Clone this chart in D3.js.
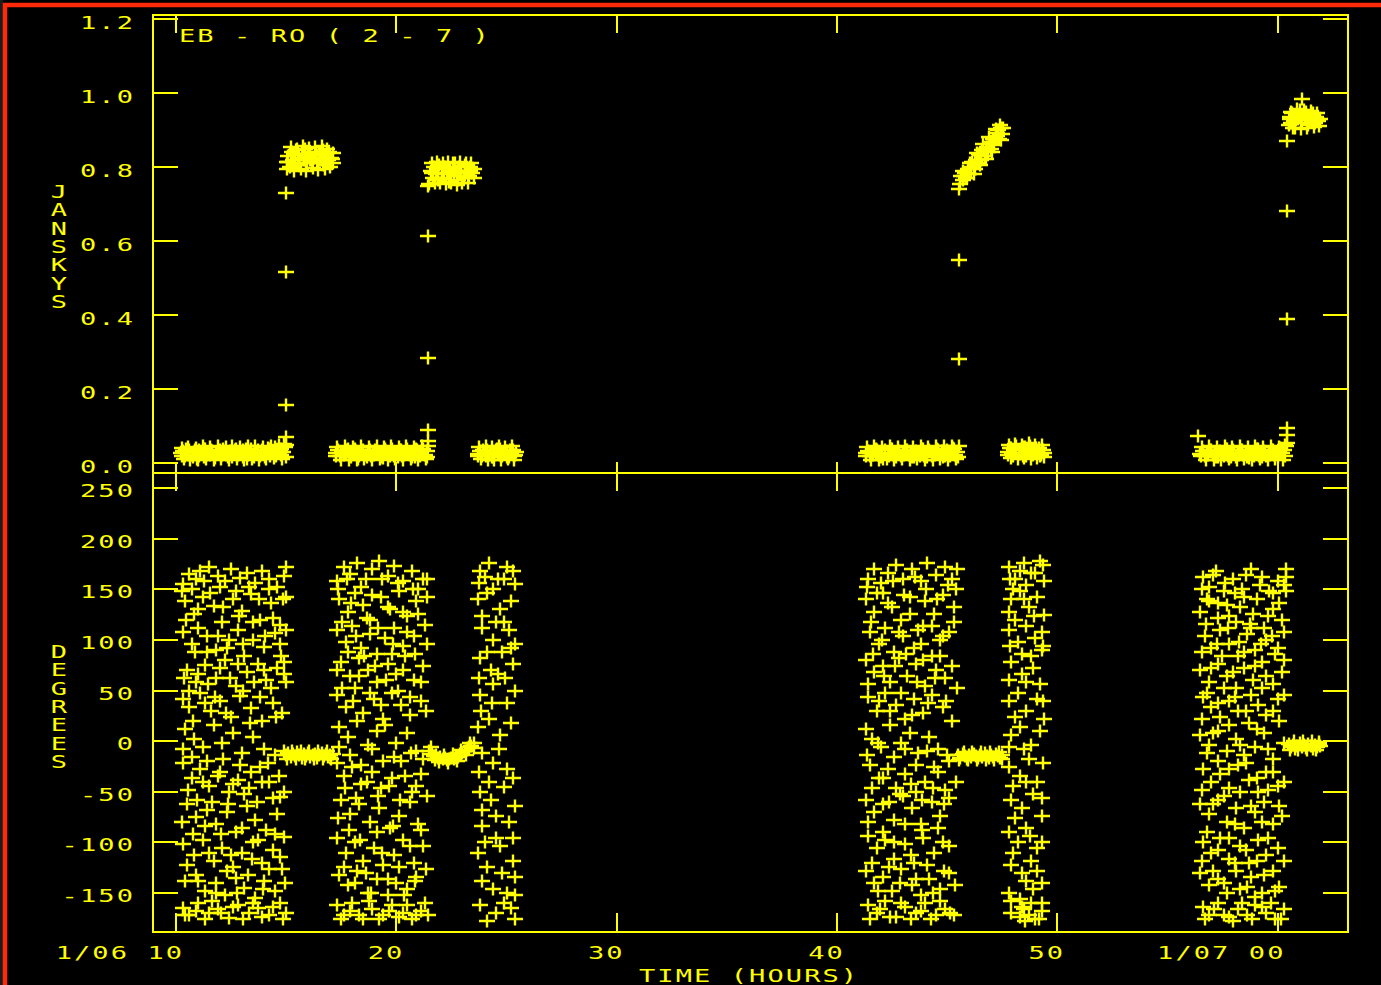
<!DOCTYPE html>
<html>
<head>
<meta charset="utf-8">
<script src="https://cdn.jsdelivr.net/npm/d3@7"></script>
<style>
  html, body { margin: 0; padding: 0; background: #000; overflow: hidden; }
  svg { display: block; }
</style>
</head>
<body>
<svg id="chart" width="1381" height="985"></svg>
<script>
// ---------------- axis ticks and labels ----------------
const hourTicks = [10, 20, 30, 40, 50, 60];
const hourTickLabels = ["1/06 10", "20", "30", "40", "50", "1/07 00"];
const janskyTicks = [0, 0.2, 0.4, 0.6, 0.8, 1.0, 1.2];
const degreeTicks = [-150, -100, -50, 0, 50, 100, 150, 200, 250];
const plotTitle = "EB - RO ( 2 - 7 )";
const ampTitle = "JANSKYS";
const phaseTitle = "DEGREES";
const timeTitle = "TIME (HOURS)";

// ---------------- amplitude (Jy) per scan: [hour, Jy] ----------------
const ampScan1Off = [[10.2,.026],[10.3,.033],[10.4,.019],[10.5,.029],[10.6,.036],[10.7,.022],[10.8,.030],[10.95,.012],[11.05,.034],[11.15,.025],[11.3,.038],[11.4,.021],[11.5,.028],[11.65,.033],[11.75,.018],[11.85,.027],[12.0,.035],[12.1,.023],[12.2,.030],[12.35,.016],[12.45,.032],[12.6,.026],[12.7,.039],[12.8,.021],[12.95,.029],[13.05,.034],[13.2,.011],[13.3,.027],[13.4,.037],[13.55,.024],[13.65,.031],[13.8,.018],[13.9,.035],[14.0,.028],[14.15,.040],[14.25,.023],[14.4,.033],[14.5,.042],[14.6,.026],[14.75,.038],[14.85,.030],[14.95,.044],
[10.25,.040],[10.35,.010],[10.55,.044],[10.65,.008],[10.9,.041],[11.0,.009],[11.2,.046],[11.35,.012],[11.55,.043],[11.7,.007],[11.9,.045],[12.05,.010],[12.25,.042],[12.4,.008],[12.55,.047],[12.75,.011],[12.9,.043],[13.1,.009],[13.25,.045],[13.45,.012],[13.6,.046],[13.75,.007],[13.95,.044],[14.1,.010],[14.3,.047],[14.45,.013],[14.65,.048],[14.8,.011],[14.9,.052],
[10.28,.018],[10.52,.022],[10.78,.015],[11.02,.020],[11.28,.016],[11.52,.021],[11.78,.014],[12.02,.019],[12.28,.022],[12.52,.015],[12.78,.020],[13.02,.017],[13.28,.022],[13.52,.015],[13.78,.021],[14.02,.016],[14.28,.020],[14.52,.018],[14.78,.022],[14.98,.016],[10.45,.037],[10.85,.035],[11.25,.038],[11.6,.036],[12.15,.037],[12.65,.035],[13.15,.038],[13.7,.036],[14.2,.037],[14.7,.034]];
const ampScan1Rise = [[15.0,.048],[15.0,.07],[15.0,.157],[15.0,.516],[15.0,.73]];
const ampScan1On = [[15.05,.815],[15.1,.83],[15.15,.80],[15.25,.84],[15.3,.82],[15.4,.81],[15.45,.845],[15.55,.825],[15.6,.805],[15.7,.835],[15.8,.82],[15.85,.85],[15.95,.81],[16.0,.83],[16.1,.84],[16.15,.815],[16.25,.825],[16.3,.855],[16.4,.81],[16.5,.835],[16.55,.82],[16.65,.845],[16.7,.805],[16.8,.83],[16.9,.82],[16.95,.84],[17.05,.825],[17.1,.81],
[15.05,.795],[15.2,.855],[15.35,.79],[15.5,.85],[15.65,.795],[15.75,.858],[15.9,.79],[16.05,.852],[16.2,.798],[16.35,.832],[16.45,.792],[16.6,.858],[16.75,.795],[16.85,.85],[17.0,.80],[17.1,.838],
[15.1,.815],[15.35,.835],[15.6,.82],[15.85,.835],[16.1,.82],[16.35,.84],[16.6,.82],[16.85,.838],[17.08,.822]];
const ampScan2Off = [[17.25,.027],[17.35,.034],[17.45,.018],[17.55,.030],[17.7,.024],[17.8,.037],[17.9,.020],[18.0,.029],[18.15,.033],[18.25,.012],[18.35,.026],[18.5,.036],[18.6,.022],[18.7,.031],[18.85,.019],[18.95,.028],[19.05,.035],[19.2,.024],[19.3,.030],[19.4,.014],[19.55,.033],[19.65,.025],[19.8,.038],[19.9,.020],[20.0,.029],[20.15,.034],[20.25,.018],[20.4,.027],[20.5,.037],[20.6,.023],[20.75,.031],[20.85,.017],[20.95,.035],[21.1,.026],[21.2,.039],[21.3,.022],[21.4,.032],
[17.3,.043],[17.5,.008],[17.65,.045],[17.85,.009],[18.05,.044],[18.2,.007],[18.4,.046],[18.55,.010],[18.75,.042],[18.9,.008],[19.1,.045],[19.25,.011],[19.45,.044],[19.6,.007],[19.75,.047],[19.95,.010],[20.1,.043],[20.3,.009],[20.45,.046],[20.65,.012],[20.8,.044],[21.0,.008],[21.15,.047],[21.35,.011],
[17.28,.018],[17.6,.021],[17.95,.015],[18.3,.020],[18.65,.016],[19.0,.022],[19.35,.015],[19.7,.020],[20.05,.017],[20.35,.021],[20.7,.015],[21.05,.019],[21.38,.016],[17.75,.036],[18.1,.037],[18.8,.035],[19.5,.038],[20.2,.036],[20.9,.037]];
const ampScan2Rise = [[21.45,.045],[21.45,.06],[21.45,.09],[21.45,.284],[21.45,.614],[21.45,.749]];
const ampScan2On = [[21.5,.755],[21.55,.79],[21.65,.77],[21.7,.80],[21.8,.78],[21.9,.765],[21.95,.805],[22.05,.785],[22.15,.77],[22.2,.80],[22.3,.78],[22.4,.76],[22.45,.795],[22.55,.81],[22.6,.775],[22.7,.79],[22.8,.765],[22.85,.80],[22.95,.785],[23.05,.77],[23.1,.805],[23.2,.79],[23.3,.775],[23.35,.80],[23.45,.785],[23.5,.77],
[21.6,.812],[21.75,.758],[21.85,.815],[22.0,.757],[22.1,.812],[22.25,.755],[22.35,.815],[22.5,.758],[22.65,.812],[22.75,.752],[22.9,.815],[23.0,.756],[23.15,.812],[23.25,.758],[23.4,.81],[23.5,.795],
[21.6,.785],[21.85,.795],[22.1,.785],[22.35,.795],[22.6,.785],[22.85,.79],[23.1,.785],[23.35,.79]];
const ampScan3Off = [[23.7,.024],[23.8,.032],[23.9,.018],[24.0,.028],[24.1,.036],[24.2,.021],[24.3,.030],[24.4,.015],[24.5,.034],[24.6,.025],[24.7,.038],[24.8,.020],[24.9,.029],[25.0,.033],[25.1,.017],[25.2,.027],[25.3,.035],[25.4,.022],[25.45,.030],
[23.75,.042],[23.85,.010],[24.05,.045],[24.15,.008],[24.35,.044],[24.45,.009],[24.65,.046],[24.75,.007],[24.95,.043],[25.05,.010],[25.25,.045],[25.35,.009],
[23.72,.018],[24.05,.020],[24.35,.016],[24.7,.021],[25.0,.017],[25.35,.019],[23.95,.036],[24.55,.037],[25.15,.035]];
const ampScan4Off = [[41.3,.026],[41.4,.033],[41.5,.019],[41.6,.030],[41.75,.037],[41.85,.022],[41.95,.028],[42.1,.012],[42.2,.034],[42.3,.025],[42.45,.039],[42.55,.021],[42.65,.029],[42.8,.033],[42.9,.018],[43.0,.027],[43.15,.036],[43.25,.023],[43.35,.031],[43.5,.015],[43.6,.032],[43.7,.026],[43.85,.038],[43.95,.020],[44.05,.030],[44.2,.035],[44.3,.019],[44.4,.028],[44.55,.037],[44.65,.024],[44.75,.032],[44.9,.018],[45.0,.034],[45.1,.027],[45.25,.040],[45.35,.022],[45.45,.031],
[41.35,.044],[41.55,.009],[41.7,.046],[41.9,.008],[42.05,.043],[42.25,.010],[42.4,.047],[42.6,.007],[42.75,.044],[42.95,.011],[43.1,.046],[43.3,.008],[43.45,.043],[43.65,.010],[43.8,.047],[44.0,.009],[44.15,.044],[44.35,.007],[44.5,.046],[44.7,.010],[44.85,.045],[45.05,.008],[45.2,.047],[45.4,.011],
[41.32,.018],[41.65,.021],[42.0,.015],[42.35,.020],[42.7,.016],[43.05,.022],[43.4,.015],[43.75,.020],[44.1,.017],[44.45,.021],[44.8,.015],[45.15,.019],[45.48,.016],[41.8,.036],[42.5,.037],[43.2,.035],[43.9,.038],[44.6,.036],[45.3,.037]];
const ampScan4Rise = [[45.55,.045],[45.55,.28],[45.55,.55],[45.55,.74]];
const ampScan4On = [[45.6,.755],[45.65,.775],[45.7,.765],[45.8,.785],[45.85,.770],[45.95,.795],[46.0,.780],[46.1,.800],[46.15,.815],[46.25,.795],[46.3,.820],[46.4,.810],[46.45,.835],[46.55,.820],[46.6,.845],[46.7,.830],[46.8,.855],[46.85,.840],[46.95,.865],[47.0,.850],[47.1,.875],[47.15,.860],[47.25,.885],[47.3,.900],[47.35,.875],[47.45,.905],[47.5,.890],
[45.7,.788],[45.9,.770],[46.05,.812],[46.2,.782],[46.35,.838],[46.5,.805],[46.65,.862],[46.75,.822],[46.9,.880],[47.05,.840],[47.2,.902],[47.4,.915],[47.55,.905],[47.45,.872],
[45.75,.777],[46.0,.795],[46.25,.815],[46.5,.832],[46.75,.848],[47.0,.868],[47.25,.893]];
const ampScan5Off = [[47.75,.030],[47.85,.040],[47.95,.024],[48.05,.036],[48.15,.045],[48.25,.028],[48.35,.038],[48.45,.020],[48.55,.042],[48.65,.032],[48.75,.047],[48.85,.026],[48.95,.037],[49.05,.030],[49.15,.041],[49.25,.022],[49.35,.034],[49.4,.028],
[47.8,.048],[47.9,.013],[48.1,.052],[48.2,.012],[48.4,.050],[48.5,.014],[48.7,.053],[48.8,.011],[49.0,.050],[49.1,.013],[49.3,.048],[49.4,.015],
[47.78,.022],[48.0,.018],[48.3,.024],[48.6,.020],[48.9,.023],[49.2,.019],[47.9,.040],[48.45,.044],[49.05,.040]];
const ampScan6Off = [[56.4,.073],[56.5,.025],[56.6,.032],[56.7,.018],[56.8,.029],[56.95,.036],[57.05,.021],[57.15,.030],[57.3,.016],[57.4,.033],[57.5,.024],[57.65,.038],[57.75,.020],[57.85,.028],[58.0,.034],[58.1,.017],[58.2,.026],[58.35,.035],[58.45,.022],[58.55,.030],[58.7,.014],[58.8,.031],[58.9,.025],[59.05,.037],[59.15,.019],[59.25,.028],[59.4,.033],[59.5,.018],[59.6,.027],[59.75,.036],[59.85,.023],[59.95,.031],[60.1,.040],[60.2,.026],[60.3,.035],[60.4,.045],
[56.55,.043],[56.75,.008],[56.9,.045],[57.1,.009],[57.25,.044],[57.45,.007],[57.6,.046],[57.8,.010],[57.95,.043],[58.15,.008],[58.3,.045],[58.5,.011],[58.65,.044],[58.85,.007],[59.0,.046],[59.2,.010],[59.35,.043],[59.55,.008],[59.7,.045],[59.9,.011],[60.05,.044],[60.25,.009],[60.35,.048],
[56.52,.018],[56.85,.021],[57.2,.015],[57.55,.020],[57.9,.016],[58.25,.022],[58.6,.015],[58.95,.020],[59.3,.017],[59.65,.021],[60.0,.015],[60.35,.019],[57.0,.036],[57.7,.037],[58.4,.035],[59.1,.038],[59.8,.036]];
const ampScan6Rise = [[60.45,.055],[60.45,.075],[60.45,.095],[60.45,.39],[60.45,.68],[60.45,.87]];
const ampScan6On = [[60.5,.915],[60.55,.935],[60.6,.92],[60.65,.945],[60.75,.925],[60.8,.905],[60.85,.94],[60.95,.93],[61.0,.955],[61.1,.92],[61.15,.94],[61.25,.93],[61.3,.95],[61.4,.915],[61.45,.935],[61.55,.925],[61.6,.945],[61.7,.92],[61.75,.935],[61.85,.925],[61.95,.93],[61.1,.985],
[60.6,.95],[60.7,.905],[60.9,.958],[61.05,.902],[61.2,.955],[61.35,.905],[61.5,.952],[61.65,.908],[61.8,.945],[61.9,.912],
[60.55,.93],[60.8,.93],[61.05,.935],[61.3,.93],[61.55,.94],[61.8,.93]];

// ---------------- phase (degrees) per scan: [hour, deg] ----------------
const phaseScan1Off = [[10.3,155],[10.6,165],[10.9,160],[11.1,168],[11.5,172],[11.9,163],[12.2,158],[12.5,170],[12.9,161],[13.2,166],[13.6,156],[13.9,168],[14.2,160],[14.6,152],[14.9,163],[15.0,172],
[10.4,138],[10.8,126],[11.2,142],[11.7,133],[12.1,118],[12.6,140],[13.0,129],[13.4,145],[13.8,120],[14.3,136],[14.7,115],[15.0,142],
[10.3,108],[10.7,96],[11.0,112],[11.4,88],[11.9,104],[12.3,92],[12.8,110],[13.1,84],[13.5,100],[14.0,93],[14.5,107],[14.9,78],
[10.5,70],[10.9,58],[11.3,75],[11.8,62],[12.2,80],[12.7,54],[13.2,68],[13.7,76],[14.1,60],[14.6,72],[14.9,66],
[10.3,42],[10.6,34],[11.1,48],[11.6,30],[12.0,40],[12.5,24],[12.9,45],[13.4,33],[13.9,20],[14.4,38],[14.8,28],
[10.4,12],[10.8,2],[11.2,-6],[11.7,16],[12.1,-2],[12.6,8],[13.0,-12],[13.5,4],[14.0,-8],[14.5,-14],[14.9,-10],
[10.3,-22],[10.7,-36],[11.1,-28],[11.5,-44],[12.0,-30],[12.4,-50],[12.8,-38],[13.3,-46],[13.8,-26],[14.2,-40],[14.7,-55],
[10.5,-62],[10.9,-75],[11.4,-68],[11.8,-82],[12.3,-70],[12.7,-90],[13.2,-64],[13.6,-78],[14.1,-88],[14.6,-72],[14.9,-95],
[10.3,-102],[10.8,-112],[11.2,-98],[11.7,-118],[12.1,-106],[12.6,-124],[13.0,-110],[13.5,-100],[13.9,-120],[14.4,-108],[14.8,-126],
[10.4,-138],[10.9,-132],[11.3,-148],[11.8,-140],[12.2,-152],[12.7,-135],[13.1,-145],[13.6,-155],[14.0,-138],[14.5,-148],
[10.3,-165],[10.6,-172],[11.0,-160],[11.5,-170],[11.9,-166],[12.4,-175],[12.8,-162],[13.3,-170],[13.7,-165],[14.2,-172],[14.7,-160],[15.0,-170],
[10.25,148],[10.45,120],[10.7,150],[10.85,88],[11.0,130],[11.25,158],[11.4,104],[11.55,146],[11.8,90],[12.0,152],[12.15,132],[12.4,100],[12.7,148],[12.85,124],[13.05,96],[13.3,152],[13.5,118],[13.75,140],[14.05,104],[14.2,150],[14.4,122],[14.7,96],[14.85,140],[15.0,110],
[10.35,62],[10.6,50],[10.75,20],[11.0,66],[11.3,38],[11.45,56],[11.75,44],[12.0,72],[12.25,28],[12.45,62],[12.8,76],[13.05,50],[13.35,18],[13.55,58],[13.8,44],[14.0,70],[14.3,52],[14.55,24],[14.75,84],[15.0,58],
[10.3,-8],[10.55,-48],[10.7,-16],[10.95,-58],[11.2,-40],[11.4,-20],[11.65,-60],[11.9,-34],[12.15,-18],[12.35,-62],[12.6,-42],[12.9,-24],[13.1,-52],[13.4,-30],[13.65,-60],[13.9,-40],[14.15,-22],[14.4,-56],[14.65,-34],[14.9,-50],
[10.25,-80],[10.5,-122],[10.75,-92],[11.0,-138],[11.3,-84],[11.5,-110],[11.8,-150],[12.05,-92],[12.3,-128],[12.5,-112],[12.75,-150],[13.0,-86],[13.25,-132],[13.45,-116],[13.7,-98],[13.95,-146],[14.2,-126],[14.5,-92],[14.7,-114],[14.95,-140],
[10.4,-172],[10.9,-168],[11.3,-176],[11.65,-158],[12.05,-170],[12.6,-164],[13.05,-176],[13.5,-160],[13.9,-174],[14.4,-164],[14.85,-176]];
const phaseScan1On = [[15.0,-14],[15.1,-12],[15.2,-16],[15.3,-13],[15.4,-15],[15.5,-11],[15.6,-14],[15.7,-17],[15.8,-13],[15.9,-15],[16.0,-12],[16.1,-16],[16.2,-14],[16.3,-13],[16.4,-17],[16.5,-14],[16.6,-12],[16.7,-15],[16.8,-13],[16.9,-16],[17.0,-14],[17.1,-13],
[15.05,-18],[15.25,-10],[15.45,-18],[15.65,-10],[15.85,-18],[16.05,-10],[16.25,-18],[16.45,-10],[16.65,-18],[16.85,-10],[17.05,-18]];
const phaseScan2Off = [[17.3,158],[17.6,172],[17.9,165],[18.2,176],[18.6,160],[18.9,170],[19.2,178],[19.6,163],[19.9,173],[20.3,158],[20.7,168],[21.0,150],[21.4,160],
[17.4,140],[17.8,128],[18.1,146],[18.5,134],[18.8,120],[19.3,142],[19.7,130],[20.1,148],[20.5,124],[20.9,138],[21.4,142],
[17.3,110],[17.7,98],[18.0,114],[18.4,92],[18.8,106],[19.1,86],[19.5,102],[19.9,112],[20.3,94],[20.8,104],[21.3,115],
[17.5,78],[17.9,64],[18.3,82],[18.7,70],[19.1,58],[19.6,76],[20.0,66],[20.4,84],[20.8,60],[21.2,74],
[17.3,46],[17.7,34],[18.1,52],[18.5,28],[19.0,42],[19.4,22],[19.8,48],[20.2,36],[20.6,26],[21.1,40],
[17.4,14],[17.8,4],[18.2,20],[18.7,-4],[19.1,10],[19.5,16],[20.0,-2],[20.5,8],[20.9,-10],
[17.3,-22],[17.6,-34],[18.0,-26],[18.4,-42],[18.9,-30],[19.3,-46],[19.8,-36],[20.2,-20],[20.7,-50],[21.1,-32],
[17.5,-58],[17.9,-72],[18.3,-62],[18.8,-80],[19.2,-66],[19.7,-86],[20.1,-74],[20.6,-60],[21.0,-82],
[17.3,-96],[17.7,-110],[18.1,-100],[18.5,-118],[19.0,-106],[19.4,-122],[19.9,-112],[20.3,-98],[20.8,-120],[21.2,-104],
[17.4,-132],[17.8,-142],[18.2,-128],[18.7,-150],[19.1,-136],[19.6,-152],[20.0,-140],[20.5,-146],[20.9,-134],
[17.3,-162],[17.6,-172],[18.0,-160],[18.5,-176],[18.9,-166],[19.4,-172],[19.8,-162],[20.3,-170],[20.7,-176],[21.1,-168],[21.45,-172],
[17.35,150],[17.55,118],[17.75,160],[17.95,136],[18.15,104],[18.4,152],[18.65,122],[18.9,144],[19.15,112],[19.35,160],[19.6,132],[19.85,96],[20.05,156],[20.3,128],[20.5,108],[20.75,150],[21.0,126],[21.2,160],[21.4,96],
[17.3,70],[17.55,52],[17.8,88],[18.05,40],[18.3,64],[18.55,84],[18.8,48],[19.05,74],[19.3,36],[19.55,60],[19.8,86],[20.05,50],[20.3,70],[20.6,44],[20.85,86],[21.1,58],[21.35,30],
[17.4,-6],[17.65,-46],[17.9,-14],[18.15,-56],[18.4,-24],[18.65,-40],[18.9,-8],[19.15,-54],[19.4,-20],[19.65,-44],[19.9,-16],[20.15,-58],[20.4,-34],[20.65,-12],[20.9,-44],[21.2,-18],[21.4,-54],
[17.35,-76],[17.6,-124],[17.85,-88],[18.1,-140],[18.35,-98],[18.6,-130],[18.85,-150],[19.1,-90],[19.35,-110],[19.6,-136],[19.85,-84],[20.1,-124],[20.35,-152],[20.6,-104],[20.85,-138],[21.1,-88],[21.35,-126],
[17.5,-176],[17.9,-168],[18.3,-172],[18.75,-158],[19.2,-176],[19.65,-168],[20.1,-174],[20.5,-162],[20.9,-172],[21.3,-160]];
const phaseScan2On = [[21.5,-10],[21.6,-13],[21.7,-15],[21.8,-14],[21.9,-17],[22.0,-16],[22.1,-18],[22.2,-17],[22.3,-19],[22.4,-18],[22.5,-17],[22.6,-18],[22.7,-15],[22.8,-16],[22.9,-13],[23.0,-12],[23.1,-10],[23.2,-9],[23.3,-6],[23.4,-5],[23.5,-2],
[21.55,-6],[21.75,-19],[21.95,-21],[22.15,-14],[22.35,-22],[22.55,-13],[22.75,-20],[22.95,-9],[23.15,-14],[23.35,-2],[23.5,-7]];
const phaseScan3Off = [[23.8,168],[24.2,176],[24.6,160],[25.0,172],[25.4,155],
[23.7,140],[24.1,146],[24.7,130],[25.2,138],
[23.9,112],[24.4,100],[24.9,118],[25.4,96],
[23.8,82],[24.3,70],[24.8,88],[25.3,76],
[23.8,46],[24.4,56],[25.0,38],[25.4,50],
[23.7,14],[24.2,22],[24.7,6],[25.2,18],
[23.9,-12],[24.4,-22],[25.0,-28],
[23.8,-50],[24.3,-58],[24.9,-45],[25.4,-64],
[23.9,-84],[24.5,-96],[25.1,-80],
[23.7,-110],[24.1,-124],[24.7,-104],[25.3,-118],
[23.9,-138],[24.4,-146],[25.0,-150],[25.4,-134],
[23.8,-162],[24.5,-170],[25.2,-165],[25.4,-176],
[23.75,156],[24.0,162],[24.4,150],[24.9,160],[25.3,168],[23.9,124],[24.5,118],[25.1,110],[23.75,62],[24.1,88],[24.6,66],[25.2,92],[23.85,30],[24.35,38],[24.95,62],[23.75,-30],[24.2,-40],[24.65,-8],[25.3,-36],[23.9,-68],[24.5,-74],[25.3,-96],[24.0,-100],[24.8,-130],[25.4,-152],[24.1,-178],[24.9,-160]];
const phaseScan4Off = [[41.4,160],[41.7,170],[42.0,156],[42.3,166],[42.7,174],[43.0,160],[43.4,170],[43.8,158],[44.1,176],[44.5,164],[44.9,172],[45.2,160],[45.4,150],
[41.3,140],[41.7,128],[42.1,146],[42.5,132],[42.9,120],[43.3,142],[43.7,110],[44.0,138],[44.4,126],[44.8,144],[45.3,132],
[41.5,108],[41.9,96],[42.2,112],[42.6,88],[43.0,104],[43.5,92],[43.9,114],[44.3,84],[44.7,100],[45.1,108],
[41.3,80],[41.7,68],[42.1,74],[42.4,58],[42.8,82],[43.2,64],[43.6,76],[44.0,54],[44.5,70],[44.9,62],
[41.4,44],[41.8,30],[42.2,48],[42.7,36],[43.1,22],[43.5,42],[43.9,28],[44.3,46],[44.8,34],[45.2,20],
[41.3,12],[41.6,2],[42.0,-6],[42.4,16],[42.9,-2],[43.3,8],[43.7,-12],[44.2,4],[44.6,-8],[45.0,-14],
[41.5,-24],[41.9,-36],[42.3,-28],[42.7,-46],[43.1,-32],[43.6,-50],[44.0,-40],[44.4,-26],[44.9,-48],
[41.3,-58],[41.7,-70],[42.1,-62],[42.6,-78],[43.0,-54],[43.4,-66],[43.8,-82],[44.3,-60],[44.7,-74],[45.1,-56],
[41.4,-94],[41.8,-106],[42.2,-98],[42.6,-116],[43.1,-102],[43.5,-120],[43.9,-96],[44.4,-110],[44.8,-100],
[41.3,-128],[41.7,-140],[42.1,-134],[42.5,-148],[42.9,-126],[43.4,-142],[43.8,-152],[44.2,-136],[44.7,-146],[45.1,-130],
[41.4,-162],[41.8,-170],[42.2,-158],[42.7,-174],[43.1,-164],[43.6,-170],[44.0,-160],[44.5,-172],[44.9,-166],[45.3,-172],
[41.35,152],[41.55,118],[41.8,146],[42.05,100],[42.3,136],[42.55,158],[42.8,108],[43.05,144],[43.3,126],[43.55,162],[43.8,96],[44.05,150],[44.3,114],[44.55,140],[44.8,104],[45.05,154],[45.3,118],[45.45,170],
[41.4,56],[41.65,86],[41.9,40],[42.15,64],[42.4,30],[42.65,74],[42.9,48],[43.15,86],[43.4,26],[43.65,58],[43.9,80],[44.15,38],[44.45,62],[44.7,84],[44.95,40],[45.2,74],[45.45,52],
[41.35,-14],[41.6,-46],[41.85,-2],[42.1,-36],[42.35,-60],[42.6,-16],[42.85,-52],[43.1,-8],[43.35,-42],[43.6,-24],[43.85,-58],[44.1,-10],[44.35,-46],[44.6,-30],[44.85,-62],[45.1,-20],[45.4,-40],
[41.4,-80],[41.6,-120],[41.85,-148],[42.1,-90],[42.35,-124],[42.6,-100],[42.85,-140],[43.1,-82],[43.35,-112],[43.6,-136],[43.85,-88],[44.1,-122],[44.35,-150],[44.6,-86],[44.85,-128],[45.1,-104],[45.35,-142],
[41.5,-176],[41.95,-166],[42.4,-174],[42.9,-160],[43.35,-176],[43.8,-168],[44.25,-176],[44.7,-158],[45.15,-170]];
const phaseScan4On = [[45.5,-14],[45.6,-17],[45.7,-13],[45.8,-15],[45.9,-18],[46.0,-14],[46.1,-16],[46.2,-13],[46.3,-15],[46.4,-17],[46.5,-14],[46.6,-16],[46.7,-12],[46.8,-15],[46.9,-17],[47.0,-14],[47.1,-16],[47.2,-13],[47.3,-15],[47.4,-17],[47.5,-14],
[45.55,-19],[45.75,-11],[45.95,-19],[46.15,-11],[46.35,-19],[46.55,-11],[46.75,-19],[46.95,-11],[47.15,-19],[47.35,-11],[47.5,-18]];
const phaseScan5Off = [[47.8,172],[48.1,160],[48.5,176],[48.8,166],[49.2,178],[49.4,158],
[47.9,140],[48.3,148],[48.7,132],[49.1,142],[49.4,125],
[47.8,110],[48.2,98],[48.6,114],[49.0,102],[49.3,90],
[47.9,78],[48.4,66],[48.8,84],[49.2,56],
[47.8,40],[48.2,48],[48.6,30],[49.1,42],[49.4,22],
[47.9,6],[48.3,14],[48.8,-4],[49.2,10],
[47.8,-26],[48.3,-34],[48.7,-18],[49.1,-40],
[47.9,-58],[48.4,-66],[48.9,-52],[49.3,-74],
[47.8,-90],[48.2,-100],[48.6,-86],[49.1,-106],
[47.9,-122],[48.4,-130],[48.8,-118],[49.3,-140],
[47.8,-150],[48.3,-156],[48.9,-146],[49.3,-160],
[47.9,-170],[48.3,-174],[48.5,-166],[48.7,-172],[49.0,-176],[49.3,-168],
[47.85,160],[48.0,150],[48.3,168],[48.6,154],[49.0,166],[49.35,174],[47.8,128],[48.1,120],[48.5,140],[48.95,124],[49.3,108],[47.85,94],[48.4,86],[48.9,72],[49.35,94],[47.8,60],[48.1,24],[48.6,58],[49.35,40],[47.8,-6],[48.5,-8],[49.35,-22],[48.0,-44],[48.6,-40],[49.3,-56],[48.1,-76],[48.75,-94],[49.3,-100],[48.0,-110],[48.6,-138],[49.1,-128],[47.9,-158],[48.4,-164],[48.8,-160],[49.15,-176],[48.55,-178]];
const phaseScan6Off = [[56.6,162],[56.9,152],[57.2,168],[57.6,156],[58.0,160],[58.4,150],[58.8,170],[59.2,154],[59.6,148],[60.0,158],[60.4,170],[60.4,162],[60.4,148],
[56.5,128],[56.9,138],[57.3,122],[57.7,134],[58.1,118],[58.5,142],[58.9,126],[59.4,112],[59.8,130],[60.2,120],
[56.7,104],[57.0,92],[57.4,110],[57.8,96],[58.2,84],[58.6,106],[59.0,90],[59.5,100],[59.9,86],[60.3,108],
[56.5,70],[56.9,58],[57.3,76],[57.7,64],[58.1,52],[58.5,72],[58.9,60],[59.3,78],[59.8,56],[60.2,68],
[56.6,44],[57.0,34],[57.4,24],[57.8,40],[58.2,30],[58.7,18],[59.1,36],[59.5,26],[60.0,42],
[56.5,6],[56.9,-4],[57.3,10],[57.7,-10],[58.1,2],[58.5,-14],[59.0,-6],[59.4,8],[59.8,-18],[60.3,-2],
[56.6,-28],[57.0,-40],[57.4,-32],[57.8,-46],[58.2,-24],[58.7,-38],[59.1,-50],[59.5,-30],[60.0,-44],
[56.5,-62],[56.9,-72],[57.3,-58],[57.7,-80],[58.1,-66],[58.5,-86],[59.0,-70],[59.4,-60],[59.8,-82],[60.2,-74],
[56.6,-100],[57.0,-110],[57.4,-96],[57.8,-116],[58.3,-104],[58.7,-120],[59.1,-98],[59.5,-112],[60.0,-106],
[56.5,-130],[56.9,-142],[57.3,-136],[57.7,-150],[58.1,-128],[58.6,-144],[59.0,-154],[59.4,-132],[59.9,-148],
[56.6,-164],[56.9,-172],[57.3,-160],[57.8,-174],[58.2,-166],[58.6,-172],[59.0,-162],[59.5,-170],[59.9,-176],[60.3,-166],
[56.55,150],[56.8,140],[57.05,164],[57.3,136],[57.55,148],[57.8,124],[58.05,146],[58.3,132],[58.55,164],[58.8,112],[59.05,140],[59.3,162],[59.55,124],[59.8,146],[60.05,136],[60.3,154],
[56.55,88],[56.75,116],[57.0,72],[57.25,96],[57.5,84],[57.75,112],[58.0,68],[58.25,98],[58.5,88],[58.75,116],[59.0,74],[59.25,96],[59.5,64],[59.75,104],[60.0,92],[60.3,80],
[56.55,22],[56.8,48],[57.05,8],[57.3,38],[57.55,52],[57.8,16],[58.05,44],[58.3,-4],[58.55,30],[58.8,46],[59.05,12],[59.3,52],[59.55,-8],[59.8,30],[60.05,20],[60.3,46],
[56.55,-48],[56.8,-12],[57.05,-62],[57.3,-20],[57.55,-54],[57.8,-28],[58.05,-82],[58.3,-50],[58.55,-22],[58.8,-64],[59.05,-36],[59.3,-80],[59.55,-48],[59.8,-30],[60.05,-64],[60.3,-40],
[56.55,-118],[56.8,-90],[57.05,-128],[57.3,-108],[57.55,-140],[57.8,-96],[58.05,-120],[58.3,-146],[58.55,-108],[58.8,-134],[59.05,-118],[59.3,-150],[59.55,-96],[59.8,-128],[60.05,-144],[60.3,-118],
[56.7,-176],[57.1,-166],[57.55,-172],[58.0,-178],[58.4,-160],[58.85,-176],[59.3,-164],[59.7,-160],[60.15,-176]];
const phaseScan6On = [[60.5,-3],[60.6,-6],[60.7,-4],[60.8,-8],[60.9,-5],[61.0,-2],[61.1,-6],[61.2,-4],[61.3,-7],[61.4,-3],[61.5,-5],[61.6,-8],[61.7,-4],[61.8,-6],[61.9,-3],[61.95,-5],
[60.55,-9],[60.75,0],[60.95,-9],[61.15,0],[61.35,-9],[61.55,0],[61.75,-9],[61.9,-1]];

// ---------------- drawing ----------------
const INK = "#ffff00";
const FONT_PX = 18, SX = 1.5, LS = 1.4;   // wide plotter-style lettering

const svg = d3.select("#chart")
  .style("background", "#000")
  .attr("font-family", "'DejaVu Sans Mono', 'Liberation Mono', monospace")
  .attr("font-size", FONT_PX)
  .attr("letter-spacing", LS)
  .attr("fill", INK);

// page border of the plot window
svg.append("rect").attr("x", 0).attr("y", 0).attr("width", 3).attr("height", 985).attr("fill", "#1c1c1c");
svg.append("path").attr("d", "M5,985V5H1381").attr("fill", "none")
  .attr("stroke", "#ff2a0a").attr("stroke-width", 4.5);

const L = 153, R = 1348, T = 15, MID = 473, B = 932;

const x = d3.scaleLinear().domain([8.95, 63.2]).range([L, R]);
const yAmp = d3.scaleLinear().domain([-0.027, 1.211]).range([MID, T]);
const yPh = d3.scaleLinear().domain([-188.5, 264.8]).range([B, MID]);

function wideText(parent, str, px, py, anchor) {
  return parent.append("text")
    .attr("transform", `translate(${px},${py}) scale(${SX},1)`)
    .attr("text-anchor", anchor)
    .attr("stroke", "none")
    .text(str);
}

function styleAxis(g) {
  g.select(".domain").remove();
  g.selectAll(".tick line").attr("stroke", INK).attr("stroke-width", 2)
    .attr("shape-rendering", "crispEdges");
  g.attr("font-family", null).attr("font-size", null).attr("fill", INK);
}

// left amplitude axis with labels
const gAmpL = svg.append("g").attr("transform", `translate(${L},0)`)
  .call(d3.axisLeft(yAmp).tickValues(janskyTicks).tickSize(-25).offset(0).tickFormat(() => ""));
styleAxis(gAmpL);
gAmpL.selectAll(".tick text").remove();
gAmpL.selectAll(".tick").each(function(d) {
  wideText(d3.select(this), d3.format(".1f")(d), -18, 9.5, "end");
});

// right amplitude ticks
const gAmpR = svg.append("g").attr("transform", `translate(${R},0)`)
  .call(d3.axisRight(yAmp).tickValues(janskyTicks).tickSize(-25).offset(0).tickFormat(() => ""));
styleAxis(gAmpR);

// left phase axis with labels
const gPhL = svg.append("g").attr("transform", `translate(${L},0)`)
  .call(d3.axisLeft(yPh).tickValues(degreeTicks).tickSize(-25).offset(0).tickFormat(() => ""));
styleAxis(gPhL);
gPhL.selectAll(".tick text").remove();
gPhL.selectAll(".tick").each(function(d) {
  wideText(d3.select(this), String(d), -18, 9, "end");
});

// right phase ticks
const gPhR = svg.append("g").attr("transform", `translate(${R},0)`)
  .call(d3.axisRight(yPh).tickValues(degreeTicks).tickSize(-25).offset(0).tickFormat(() => ""));
styleAxis(gPhR);

// time ticks: top edge, panel divider, bottom edge
const gTop = svg.append("g").attr("transform", `translate(0,${T})`)
  .call(d3.axisTop(x).tickValues(hourTicks).tickSize(-18).offset(0).tickFormat(() => ""));
styleAxis(gTop);
const gMid = svg.append("g").attr("transform", `translate(0,${MID - 11})`)
  .call(d3.axisBottom(x).tickValues(hourTicks).tickSize(29).offset(0).tickFormat(() => ""));
styleAxis(gMid);
const gBot = svg.append("g").attr("transform", `translate(0,${B})`)
  .call(d3.axisBottom(x).tickValues(hourTicks).tickSize(-19).offset(0).tickFormat(() => ""));
styleAxis(gBot);
gBot.selectAll(".tick text").remove();
gBot.selectAll(".tick").each(function(d, i) {
  wideText(d3.select(this), hourTickLabels[i], 8, 26.5, "end");
});

// frame and panel divider
svg.append("path")
  .attr("d", `M${L},${T}H${R}V${B}H${L}Z M${L},${MID}H${R}`)
  .attr("fill", "none").attr("stroke", INK).attr("stroke-width", 2)
  .attr("shape-rendering", "crispEdges");

// titles
wideText(svg, plotTitle, 179, 42, "start");
wideText(svg, timeTitle, 639, 982, "start");
function stackedTitle(str, cx, topBaseline) {
  str.split("").forEach((ch, i) => wideText(svg, ch, cx, topBaseline + i * 18.3, "middle"));
}
stackedTitle(ampTitle, 60, 198);
stackedTitle(phaseTitle, 60, 658);

// plus markers
const plus = "M-8,0H8M0,-6.5V6.5";
function drawPlus(data, yScale) {
  svg.append("g")
    .attr("stroke", INK).attr("stroke-width", 2.4).attr("fill", "none")
    .selectAll("path").data(data).join("path")
    .attr("d", plus)
    .attr("transform", d => `translate(${Math.round(x(d[0]))},${Math.round(yScale(d[1]))})`);
}

[ampScan1Off, ampScan1Rise, ampScan1On, ampScan2Off, ampScan2Rise, ampScan2On, ampScan3Off,
 ampScan4Off, ampScan4Rise, ampScan4On, ampScan5Off, ampScan6Off, ampScan6Rise, ampScan6On]
  .forEach(s => drawPlus(s, yAmp));
[phaseScan1Off, phaseScan1On, phaseScan2Off, phaseScan2On, phaseScan3Off,
 phaseScan4Off, phaseScan4On, phaseScan5Off, phaseScan6Off, phaseScan6On]
  .forEach(s => drawPlus(s, yPh));
</script>
</body>
</html>
